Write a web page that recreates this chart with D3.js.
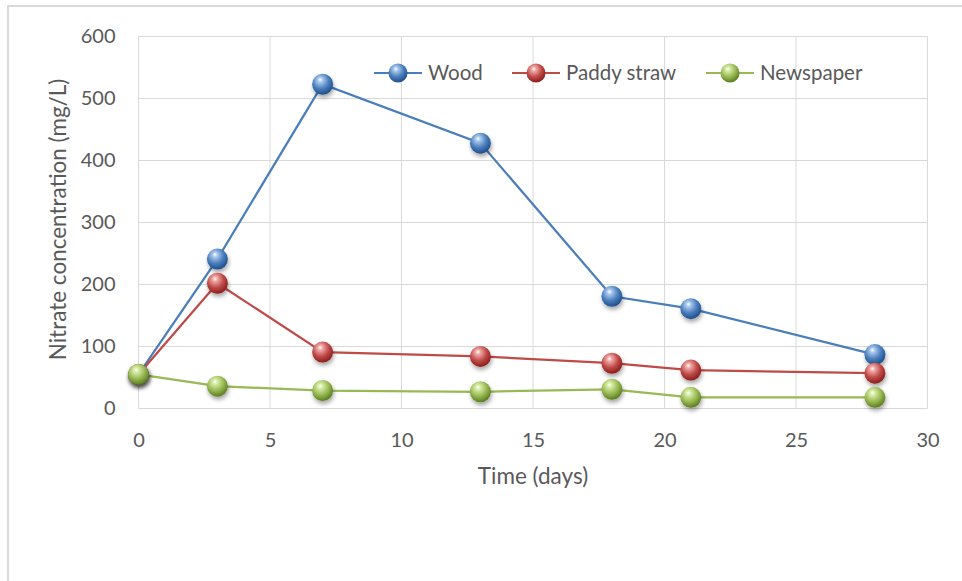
<!DOCTYPE html>
<html>
<head>
<meta charset="utf-8">
<script src="https://cdn.jsdelivr.net/npm/d3@7/dist/d3.min.js"></script>
<style>
  html, body { margin: 0; padding: 0; background: #fff; }
  svg text { font-family: Lato, "Open Sans", sans-serif; fill: #595959; }
</style>
</head>
<body>
<svg id="chart" width="962" height="581"></svg>
<script>
// Sampling days
const days = [0, 3, 7, 13, 18, 21, 28];

// Nitrate concentration (mg/L) for each substrate
const wood = [55, 241, 523, 428, 181, 161, 87];
const paddyStraw = [55, 202, 91, 84, 73, 62, 57];
const newspaper = [55, 36, 29, 27, 31, 18, 18];

const seriesNames = ["Wood", "Paddy straw", "Newspaper"];
const seriesColors = ["#4a7ebb", "#be4b48", "#98b954"];
const ballLight = ["#a9c8ef", "#f1a9a7", "#d6eca5"];
const ballDark = ["#1f4e8c", "#8c1d1b", "#5a7d1f"];

const xTicks = [0, 5, 10, 15, 20, 25, 30];
const yTicks = [0, 100, 200, 300, 400, 500, 600];

const xLabel = "Time (days)";
const yLabel = "Nitrate concentration (mg/L)";

const series = [wood, paddyStraw, newspaper].map((vals, i) => ({
  name: seriesNames[i],
  color: seriesColors[i],
  light: ballLight[i],
  dark: ballDark[i],
  points: days.map((d, j) => ({ x: d, y: vals[j] }))
}));

const svg = d3.select("#chart");

// Chart frame
svg.append("path")
  .attr("d", "M8,590 L8,6 L970,6")
  .attr("fill", "none")
  .attr("stroke", "#d9d9d9")
  .attr("stroke-width", 2);

const plot = { left: 138.5, right: 927.5, top: 36.5, bottom: 408.5 };

const x = d3.scaleLinear().domain([0, 30]).range([plot.left, plot.right]);
const y = d3.scaleLinear().domain([0, 600]).range([plot.bottom, plot.top]);

// Defs: sphere gradients and soft shadow
const defs = svg.append("defs");
series.forEach((s, i) => {
  const g = defs.append("radialGradient")
    .attr("id", "ball" + i)
    .attr("cx", "42%").attr("cy", "35%").attr("r", "65%")
    .attr("fx", "38%").attr("fy", "28%");
  g.append("stop").attr("offset", "0%").attr("stop-color", "#ffffff");
  g.append("stop").attr("offset", "18%").attr("stop-color", s.light);
  g.append("stop").attr("offset", "60%").attr("stop-color", s.color);
  g.append("stop").attr("offset", "100%").attr("stop-color", s.dark);
});
const shadow = defs.append("filter").attr("id", "shadow")
  .attr("x", "-50%").attr("y", "-50%").attr("width", "200%").attr("height", "200%");
shadow.append("feDropShadow")
  .attr("dx", 1).attr("dy", 3).attr("stdDeviation", 2)
  .attr("flood-color", "#000").attr("flood-opacity", 0.35);

// Gridlines
const grid = svg.append("g");
grid.selectAll("line.h").data(yTicks).join("line")
  .attr("x1", plot.left).attr("x2", plot.right)
  .attr("y1", d => y(d)).attr("y2", d => y(d))
  .attr("stroke", "#d9d9d9").attr("stroke-width", 1);
grid.selectAll("line.v").data(xTicks).join("line")
  .attr("y1", plot.top).attr("y2", plot.bottom)
  .attr("x1", d => x(d)).attr("x2", d => x(d))
  .attr("stroke", "#d9d9d9").attr("stroke-width", 1);

// Axes (labels only, Excel-style)
const xAxis = d3.axisBottom(x).tickValues(xTicks).tickSize(0).tickPadding(24);
const yAxis = d3.axisLeft(y).tickValues(yTicks).tickSize(0).tickPadding(23);

svg.append("g").attr("transform", `translate(0,${plot.bottom})`).call(xAxis)
  .call(g => g.select(".domain").remove())
  .selectAll("text").style("font-size", "20px").attr("fill", "#595959");
svg.append("g").attr("transform", `translate(${plot.left},0)`).call(yAxis)
  .call(g => g.select(".domain").remove())
  .selectAll("text").style("font-size", "20px").attr("fill", "#595959");

// Axis titles
svg.append("text")
  .attr("x", (plot.left + plot.right) / 2)
  .attr("y", 484)
  .attr("text-anchor", "middle")
  .style("font-size", "22.5px")
  .text(xLabel);
svg.append("text")
  .attr("transform", `translate(66,${(plot.top + plot.bottom) / 2 - 3}) rotate(-90)`)
  .attr("text-anchor", "middle")
  .style("font-size", "22.5px")
  .text(yLabel);

// Lines
const line = d3.line().x(d => x(d.x)).y(d => y(d.y));
svg.append("g").selectAll("path").data(series).join("path")
  .attr("d", d => line(d.points))
  .attr("fill", "none")
  .attr("stroke", d => d.color)
  .attr("stroke-width", 2.25);

// Markers
series.forEach((s, i) => {
  svg.append("g").selectAll("circle").data(s.points).join("circle")
    .attr("cx", d => x(d.x))
    .attr("cy", d => y(d.y))
    .attr("r", 10.5)
    .attr("fill", `url(#ball${i})`)
    .attr("filter", "url(#shadow)");
});

// Legend
const legendItems = [
  { lx: 374, tx: 428 },
  { lx: 512, tx: 566 },
  { lx: 706, tx: 760 }
];
const legend = svg.append("g");
series.forEach((s, i) => {
  const it = legendItems[i];
  const ly = 73;
  legend.append("line")
    .attr("x1", it.lx).attr("x2", it.lx + 48)
    .attr("y1", ly).attr("y2", ly)
    .attr("stroke", s.color).attr("stroke-width", 2);
  legend.append("circle")
    .attr("cx", it.lx + 24).attr("cy", ly).attr("r", 9.5)
    .attr("fill", `url(#ball${i})`);
  legend.append("text")
    .attr("x", it.tx).attr("y", ly + 7)
    .style("font-size", "20.5px")
    .text(s.name);
});
</script>
</body>
</html>
